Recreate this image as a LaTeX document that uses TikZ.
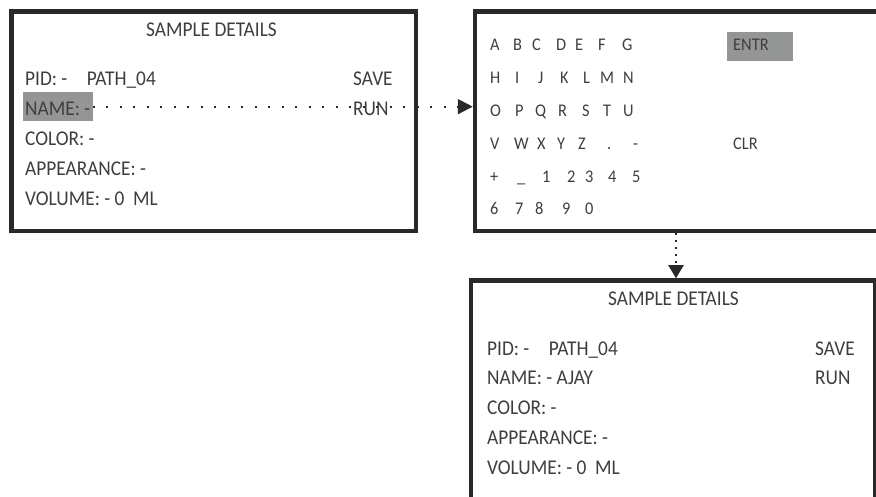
\documentclass[tikz,border=0pt]{standalone}
\usepackage{fontspec}
\setmainfont{Carlito}[FakeStretch=0.92]
\usetikzlibrary{arrows.meta, positioning}
\definecolor{frame}{RGB}{42,40,42}
\definecolor{ink}{RGB}{62,62,64}
\definecolor{hlgray}{RGB}{148,150,150}

\begin{document}
\begin{tikzpicture}[x=1pt, y=-1pt,
  panel/.style={draw=frame, line width=4.5pt, rectangle, inner sep=0pt},
  txt/.style={text=ink, font=\fontsize{21}{22}\selectfont, inner sep=0pt, anchor=base west},
  key/.style={text=ink, font=\fontsize{17.8}{19}\selectfont, inner sep=0pt, anchor=base west},
  hl/.style={fill=hlgray, inner sep=0pt},
  flow/.style={draw=frame, line width=2pt, -{Triangle[length=15pt,width=15pt]}}]
  \clip (0,0) rectangle (876,497);
  % screens
  \node[panel, minimum width=404.5pt, minimum height=219.5pt] (detA) at (213.75,121.25) {};
  \node[panel, minimum width=405pt, minimum height=219.5pt] (kbd) at (677.5,121.25) {};
  \node[panel, minimum width=404.5pt, minimum height=219.5pt] (detB) at (673.25,390.25) {};
  % highlights
  \node[hl, minimum width=69.4pt, minimum height=28.7pt] (nameHl) at (58,106.65) {};
  \node[hl, minimum width=66pt, minimum height=29pt] (entrHl) at (760,46.5) {};
  % first details screen
  \node[txt, anchor=base] (titA) at (211.5,36.7) {SAMPLE DETAILS};
  \node[txt] (pidA) at (25,86) {PID: -};
  \node[txt] (pathA) at (86.7,86) {PATH\_04};
  \node[txt] (saveA) at (353,86) {SAVE};
  \node[txt] (nameA) at (25,115.8) {NAME: -};
  \node[txt] (runA) at (353,115.8) {RUN};
  \node[txt] (colA) at (25,145.6) {COLOR: -};
  \node[txt] (appA) at (25,175.4) {APPEARANCE: -};
  \node[txt] (volA) at (25,205.2) {VOLUME: - 0\ \ ML};
  % keyboard screen
  \foreach \ch/\x [count=\i] in {A/490,B/513,C/532,D/556,E/575,F/598,G/622}
    \node[key] (ka\i) at (\x,50.7) {\ch};
  \foreach \ch/\x [count=\i] in {H/490,I/515,J/538,K/560,L/583,M/600,N/623}
    \node[key] (kb\i) at (\x,84) {\ch};
  \foreach \ch/\x [count=\i] in {O/490,P/515,Q/535,R/558,S/582,T/603,U/623}
    \node[key] (kc\i) at (\x,116.7) {\ch};
  \foreach \ch/\x [count=\i] in {V/490,W/514,X/537,Y/557,Z/578,./607,-/633}
    \node[key] (kd\i) at (\x,150) {\ch};
  \foreach \ch/\x [count=\i] in {+/490,\_/517,1/542,2/567,3/585,4/608,5/632}
    \node[key] (ke\i) at (\x,183) {\ch};
  \foreach \ch/\x [count=\i] in {6/490,7/515,8/535,9/562,0/585}
    \node[key] (kf\i) at (\x,215) {\ch};
  \node[key] (entr) at (733,50.7) {ENTR};
  \node[key] (clr) at (733,150) {CLR};
  % second details screen
  \begin{scope}[shift={(462,269)}]
    \node[txt, anchor=base] (titB) at (211.5,36.7) {SAMPLE DETAILS};
    \node[txt] (pidB) at (25,86) {PID: -};
    \node[txt] (pathB) at (86.7,86) {PATH\_04};
    \node[txt] (saveB) at (353,86) {SAVE};
    \node[txt] (nameB) at (25,115.8) {NAME: - AJAY};
    \node[txt] (runB) at (353,115.8) {RUN};
    \node[txt] (colB) at (25,145.6) {COLOR: -};
    \node[txt] (appB) at (25,175.4) {APPEARANCE: -};
    \node[txt] (volB) at (25,205.2) {VOLUME: - 0\ \ ML};
  \end{scope}
  % arrows
  \draw[flow, dash pattern=on 2pt off 11.5pt] (nameHl.east) -- (nameHl.east -| kbd.west);
  \draw[flow, dash pattern=on 2pt off 5pt, -{Triangle[length=13pt,width=15pt]}] ([xshift=-1.5pt]kbd.south) -- ([xshift=-1.5pt]kbd.south |- detB.north);
\end{tikzpicture}
\end{document}
